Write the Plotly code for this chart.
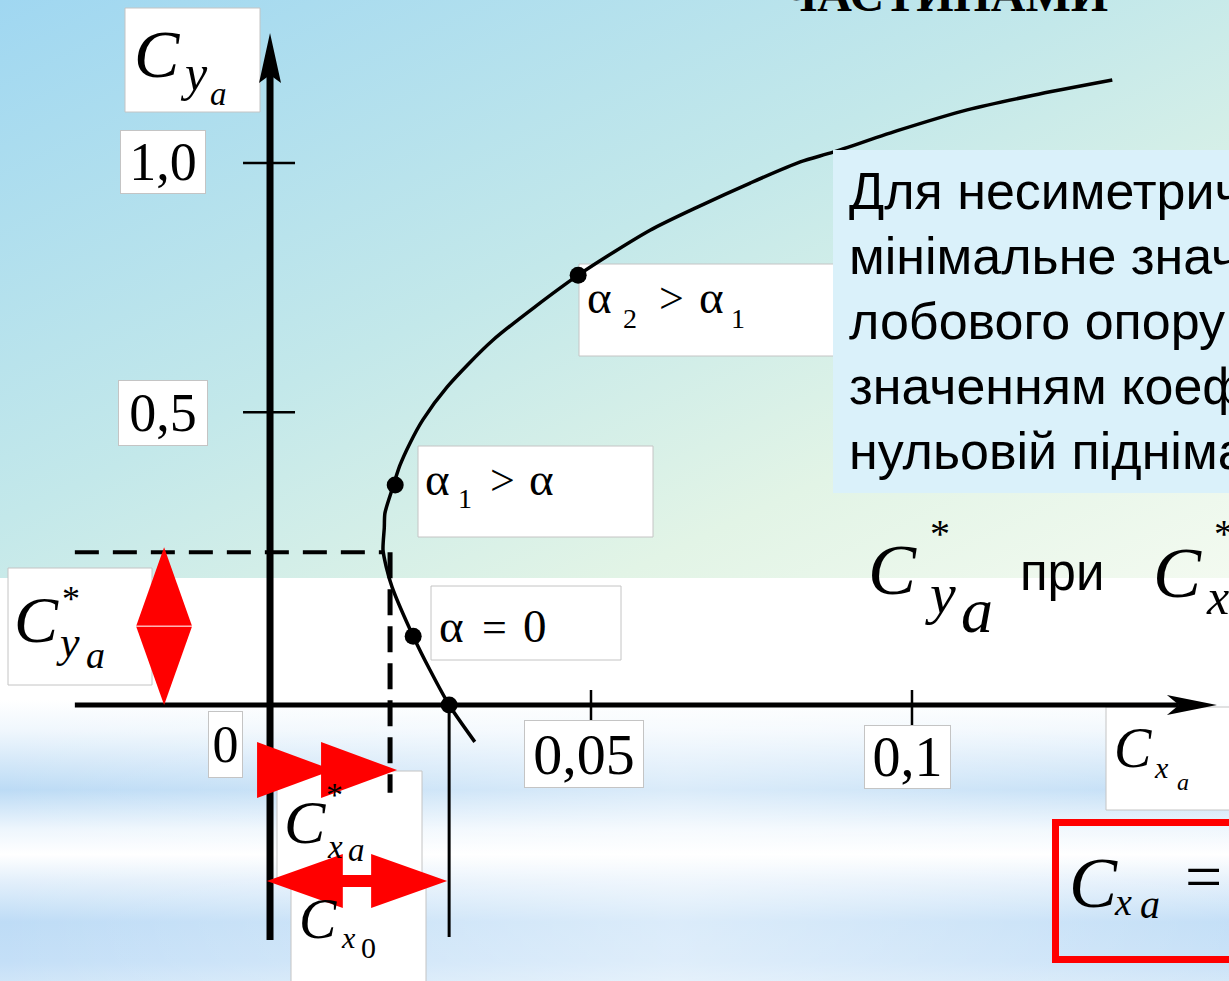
import base64
import plotly.graph_objects as go

# ---------------- values ----------------
# drag polar  C_ya = f(C_xa)  (schematic)
cx_curve = [0.0319, 0.0279, 0.0249, 0.0223, 0.0190, 0.0181, 0.0176, 0.0178, 0.0179,
            0.0190, 0.0202, 0.0218, 0.0238, 0.0276, 0.0347, 0.0480, 0.0592, 0.0670,
            0.0748, 0.0826, 0.0877, 0.0981, 0.1086, 0.1189, 0.1312]
cy_curve = [-0.068, 0.000, 0.065, 0.127, 0.218, 0.255, 0.286, 0.327, 0.354,
            0.397, 0.441, 0.483, 0.526, 0.587, 0.673, 0.793, 0.876, 0.921,
            0.963, 1.002, 1.020, 1.061, 1.098, 1.125, 1.153]

# marked points: alpha2 > alpha1, alpha1 > alpha, alpha = 0, C_x0 (C_ya = 0)
pt_cx = [0.0480, 0.0195, 0.0223, 0.0279]
pt_cy = [0.793, 0.406, 0.127, 0.000]

x_tick_vals = [0.0, 0.05, 0.1]
x_tick_text = ["0", "0,05", "0,1"]
y_tick_vals = [0.54, 1.0]          # the schematic's "0,5" mark sits a bit off-scale
y_tick_text = ["0,5", "1,0"]

cx_star = 0.0187     # C*_xa
cy_star = 0.282      # C*_ya
cx_zero = 0.0279     # C_x0

x_axis_span = [-0.0304, 0.1475]
y_axis_span = [-0.4336, 1.240]

TITLE = "ЧАСТИНАМИ"
NOTE_LINES = ["Для несиметричного профілю",
              "мінімальне значення коефіцієнта",
              "лобового опору відповідає",
              "значенням коефіцієнта при",
              "нульовій піднімальній силі"]

# ---------------- layout / geometry ----------------
W, H = 1229, 981
X0, X1 = -0.04206, 0.14938
Y0, Y1 = -0.5092, 1.3007
KX = (X1 - X0) / W
KY = (Y1 - Y0) / H
SERIF = "Liberation Serif, Times New Roman, serif"
SANS = "Liberation Sans, Arial, sans-serif"
RED = "#ff0000"

fig = go.Figure()


def line(xs, ys, width, color="black", dash=None):
    fig.add_trace(go.Scatter(x=xs, y=ys, mode="lines", hoverinfo="skip",
                             line=dict(color=color, width=width, dash=dash)))


def poly(xs, ys, color):
    fig.add_trace(go.Scatter(x=xs + [xs[0]], y=ys + [ys[0]], mode="lines", fill="toself",
                             fillcolor=color, line=dict(width=0, color=color),
                             hoverinfo="skip"))


# axes
xt = x_axis_span[1]
line([x_axis_span[0], xt - 38 * KX], [0, 0], 5)
poly([xt, xt - 50 * KX, xt - 38 * KX, xt - 50 * KX], [0, 10 * KY, 0, -10 * KY], "black")
yt = y_axis_span[1]
line([0, 0], [y_axis_span[0], yt - 40 * KY], 7)
poly([0, 11 * KX, 0, -11 * KX], [yt, yt - 50 * KY, yt - 42 * KY, yt - 50 * KY], "black")

# tick marks
for v in x_tick_vals[1:]:
    line([v, v], [15 * KY, -20 * KY], 2.5)
for v in y_tick_vals:
    line([-27 * KX, 25 * KX], [v, v], 2.5)

# dashed construction lines
line([x_axis_span[0], min(cx_curve)], [cy_star, cy_star], 4, dash="24px,14px")
line([cx_star, cx_star], [cy_star, -0.162], 5, dash="26px,11px")
line([cx_zero, cx_zero], [0, -0.428], 3)

# the polar
fig.add_trace(go.Scatter(x=cx_curve, y=cy_curve, mode="lines", hoverinfo="skip",
                         line=dict(color="black", width=3.5, shape="spline", smoothing=0.7)))
fig.add_trace(go.Scatter(x=pt_cx, y=pt_cy, mode="markers", hoverinfo="skip",
                         marker=dict(color="black", size=17)))

# red arrows
# vertical double diamond marking C*_ya
vx, hw = -0.0165, 28 * KX
ytop = cy_star + 0.009
ymid = ytop / 2
poly([vx, vx - hw, vx + hw], [ytop, ymid, ymid], RED)
poly([vx - hw, vx + hw, vx], [ymid, ymid, 0.0], RED)
line([vx - hw, vx + hw], [ymid, ymid], 1, color="white")

# double right-pointing arrow marking C*_xa
ya = -0.12
L, hh = 76 * KX, 28 * KY
tip = cx_star + 7 * KX
for t in [tip - 64 * KX, tip]:
    poly([t - L, t, t - L], [ya + hh, ya, ya - hh], RED)

# double-headed arrow marking C_x0
yb = -0.3247
x0, x1 = -0.0005, cx_zero - 2 * KX
hh2, sh = 27 * KY, 6 * KY
poly([x0, x0 + L, x0 + L, x1 - L, x1 - L, x1, x1 - L, x1 - L, x0 + L, x0 + L],
     [yb, yb + hh2, yb + sh, yb + sh, yb + hh2, yb, yb - hh2, yb - sh, yb - sh, yb - hh2], RED)

# ---------------- background (slide) ----------------
svg = f"""<svg xmlns='http://www.w3.org/2000/svg' width='{W}' height='{H}'>
<defs>
<linearGradient id='g1' x1='0' y1='0' x2='1' y2='1'>
<stop offset='0' stop-color='#a0d7f1'/><stop offset='0.45' stop-color='#c3e8ea'/>
<stop offset='0.75' stop-color='#e2f4e6'/><stop offset='1' stop-color='#f3faf0'/>
</linearGradient>
<linearGradient id='g2' x1='0' y1='0' x2='0' y2='1'>
<stop offset='0' stop-color='#ffffff'/><stop offset='0.107' stop-color='#f0f7fd'/>
<stop offset='0.32' stop-color='#bcdbf5'/><stop offset='0.46' stop-color='#eef6fd'/>
<stop offset='0.55' stop-color='#ffffff'/><stop offset='0.64' stop-color='#e4f0fb'/>
<stop offset='0.79' stop-color='#bedcf6'/><stop offset='0.93' stop-color='#c4dff7'/>
<stop offset='1' stop-color='#cfe5f8'/>
</linearGradient>
<linearGradient id='g3' x1='0' y1='0' x2='1' y2='0'>
<stop offset='0' stop-color='#ffffff' stop-opacity='0'/>
<stop offset='0.55' stop-color='#ffffff' stop-opacity='0.45'/>
<stop offset='1' stop-color='#ffffff' stop-opacity='0.1'/>
</linearGradient>
</defs>
<rect x='0' y='0' width='{W}' height='578' fill='url(#g1)'/>
<rect x='0' y='578' width='{W}' height='122' fill='#ffffff'/>
<rect x='0' y='700' width='{W}' height='281' fill='url(#g2)'/>
<rect x='0' y='700' width='{W}' height='281' fill='url(#g3)'/>
</svg>"""
src = "data:image/svg+xml;base64," + base64.b64encode(svg.encode("utf-8")).decode("ascii")

shapes = []


def box(x0p, y0p, x1p, y1p, fill="white", lc="#c4c4c4", lw=1, layer="between"):
    shapes.append(dict(type="rect", xref="paper", yref="paper", layer=layer,
                       x0=x0p / W, x1=x1p / W, y0=1 - y1p / H, y1=1 - y0p / H,
                       fillcolor=fill, line=dict(color=lc, width=lw)))


for b in [(125, 8, 260, 112), (8, 568, 152, 685), (1106, 707, 1245, 810),
          (277, 771, 422, 878), (291, 878, 426, 995), (579, 264, 840, 356),
          (418, 446, 653, 537), (431, 586, 621, 660)]:
    box(*b)
box(833, 150, 1245, 493, fill="#daf1fa", lc="rgba(0,0,0,0)", lw=0, layer="above")
box(1055.5, 822.5, 1250, 959.5, fill="rgba(0,0,0,0)", lc=RED, lw=7, layer="above")

ann = []


def glyph(s, xl, base, size, fam=SERIF, italic=False, bold=False, xanchor="left"):
    k = 0.3375 if fam == SERIF else 0.3465
    yc = base - k * size
    ann.append(dict(text=s, x=xl / W, y=1 - yc / H, xref="paper", yref="paper",
                    xanchor=xanchor, yanchor="middle", showarrow=False,
                    borderpad=0, borderwidth=0,
                    font=dict(family=fam, size=size, color="black",
                              style="italic" if italic else "normal",
                              weight="bold" if bold else "normal")))


# tick labels in white boxes
x_box = {"0": (-44.5, -39.5, 33, 65, 52), "0,05": (-7, -49, 118, 66, 58),
         "0,1": (-4.5, -52, 85, 62, 56)}
for v, t in zip(x_tick_vals, x_tick_text):
    dx, dy, bw, bh, fs = x_box[t]
    ann.append(dict(text=t, x=v, y=0, xref="x", yref="y", xshift=dx, yshift=dy,
                    width=bw, height=bh, bgcolor="white", bordercolor="#c4c4c4",
                    borderwidth=1, borderpad=0, showarrow=False, align="center",
                    valign="middle", font=dict(family=SERIF, size=fs, color="black")))
y_box = {"0,5": (-107, -0.7, 88, 64, 54), "1,0": (-107, 1, 84, 62, 54)}
for v, t in zip(y_tick_vals, y_tick_text):
    dx, dy, bw, bh, fs = y_box[t]
    ann.append(dict(text=t, x=0, y=v, xref="x", yref="y", xshift=dx, yshift=dy,
                    width=bw, height=bh, bgcolor="white", bordercolor="#c4c4c4",
                    borderwidth=1, borderpad=0, showarrow=False, align="center",
                    valign="middle", font=dict(family=SERIF, size=fs, color="black")))

# axis names
glyph("C", 134, 77, 68, italic=True); glyph("y", 180, 90, 50, italic=True); glyph("a", 210, 105, 33, italic=True)
glyph("C", 1114, 767, 56, italic=True); glyph("x", 1154, 778, 30, italic=True); glyph("a", 1177, 790, 24, italic=True)
# C*_ya, C*_xa, C_x0 labels
glyph("C", 14, 642, 66, italic=True); glyph("*", 62, 611, 36); glyph("y", 56, 657, 44, italic=True); glyph("a", 86, 668, 38, italic=True)
glyph("C", 284, 843, 62, italic=True); glyph("*", 326, 806, 34); glyph("x", 327, 858, 33, italic=True); glyph("a", 348, 861, 33, italic=True)
glyph("C", 299, 938, 56, italic=True); glyph("x", 341, 948, 30, italic=True); glyph("0", 361, 958, 30)
# alpha labels
glyph("α", 587, 313, 47); glyph("2", 623, 328, 28); glyph(">", 659, 313, 44); glyph("α", 699, 313, 47); glyph("1", 731, 328, 28)
glyph("α", 425, 495, 47); glyph("1", 458, 508, 28); glyph(">", 490, 495, 44); glyph("α", 529, 495, 47)
glyph("α", 439, 642, 47); glyph("=", 482, 642, 44); glyph("0", 523, 642, 47)
# C*_ya при C*_x
glyph("C", 868, 594, 72, italic=True); glyph("*", 930, 547, 40); glyph("y", 925, 613, 58, italic=True); glyph("a", 961, 632, 64, italic=True)
glyph("при", 1020, 590, 51, fam=SANS)
glyph("C", 1153, 597, 72, italic=True); glyph("*", 1214, 547, 40); glyph("x", 1206, 614, 50, italic=True)
# formula in red frame
glyph("C", 1069, 907, 72, italic=True); glyph("x", 1114, 915, 38, italic=True); glyph("a", 1140, 918, 40, italic=True)
glyph("=", 1185, 899, 66)
# note text
for i, s in enumerate(NOTE_LINES):
    glyph(s, 849, 209 + 65 * i, 52, fam=SANS)
# slide title (cut at the top)
glyph(TITLE, 945, 11, 48, bold=True, xanchor="center")

fig.update_layout(
    width=W, height=H, margin=dict(l=0, r=0, t=0, b=0, pad=0),
    paper_bgcolor="white", plot_bgcolor="rgba(0,0,0,0)", showlegend=False,
    xaxis=dict(range=[X0, X1], visible=False, fixedrange=True),
    yaxis=dict(range=[Y0, Y1], visible=False, fixedrange=True),
    images=[dict(source=src, xref="paper", yref="paper", x=0, y=1, sizex=1, sizey=1,
                 xanchor="left", yanchor="top", sizing="stretch", layer="below")],
    shapes=shapes, annotations=ann,
)

fig.write_html("out.html", config={"displayModeBar": False, "staticPlot": True},
               post_script="document.body.style.margin='0';document.body.style.overflow='hidden';")
